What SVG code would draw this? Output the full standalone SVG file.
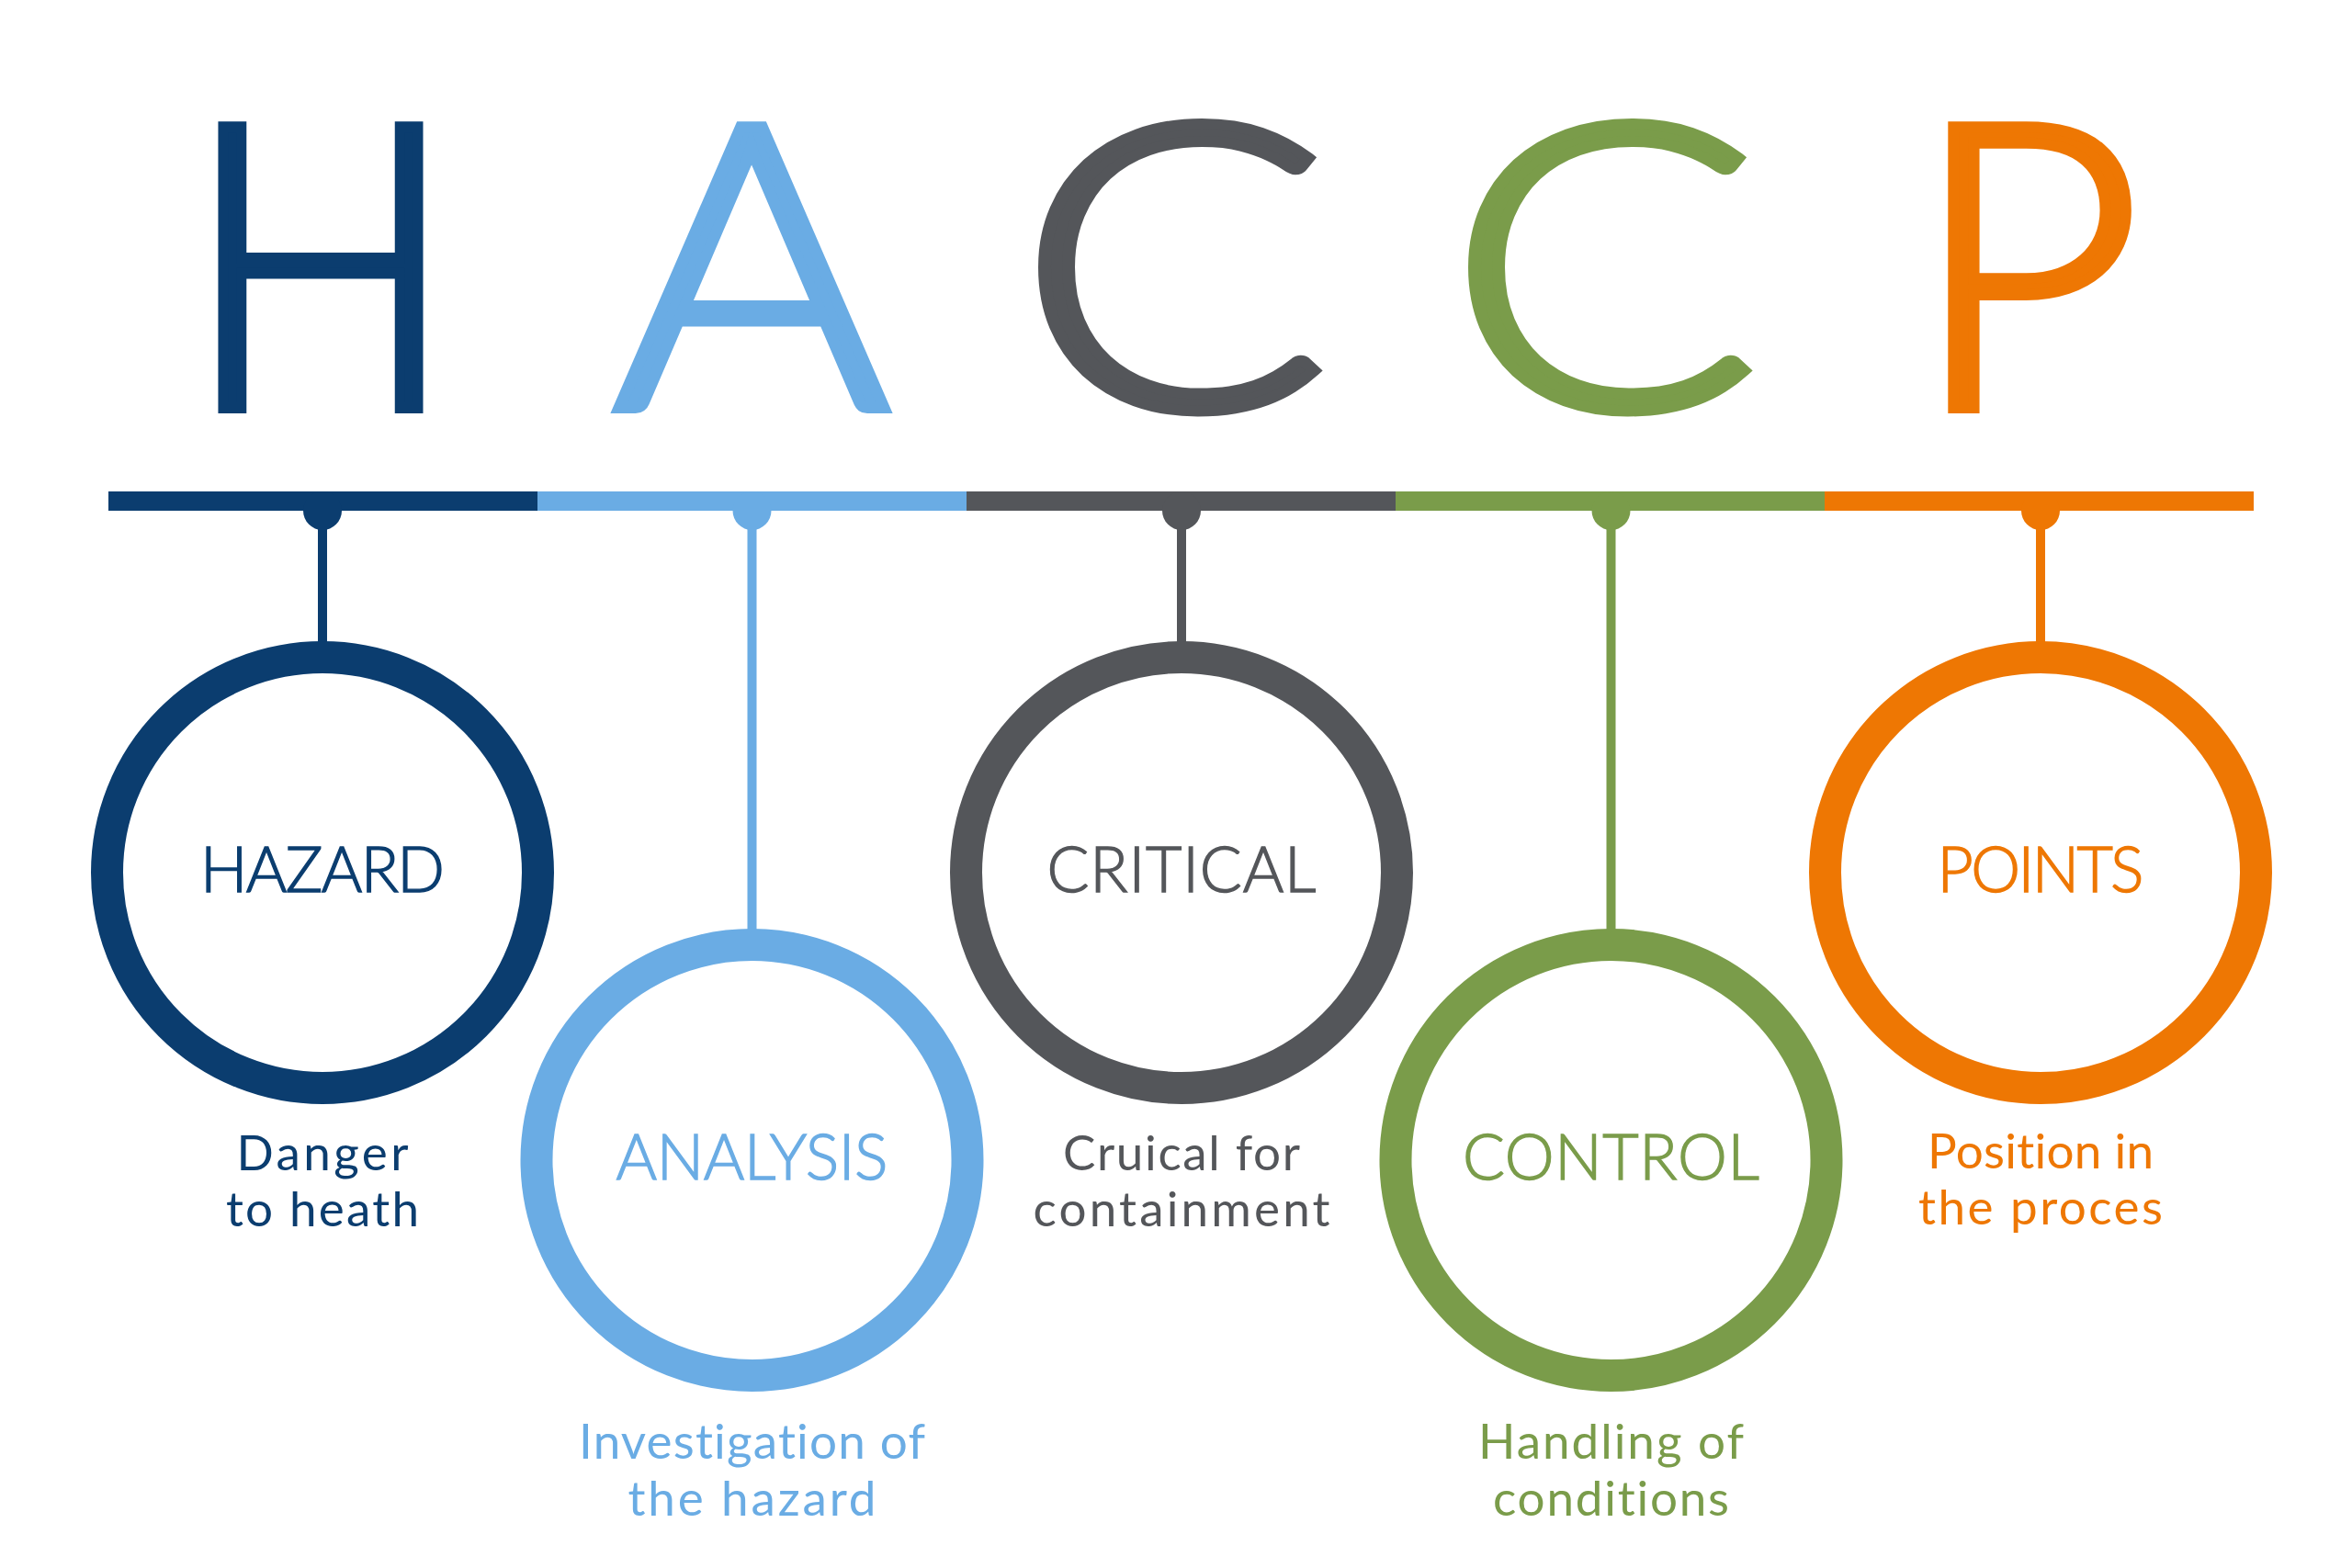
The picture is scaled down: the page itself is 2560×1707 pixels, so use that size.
<svg xmlns="http://www.w3.org/2000/svg" width="2560" height="1707" viewBox="0 0 2560 1707">
<style>
text{font-variant-ligatures:none;font-feature-settings:"liga" 0,"clig" 0}
.big{font-family:Lato,"Liberation Sans",sans-serif;font-size:432px;font-weight:300;text-anchor:middle;stroke-width:12;stroke-linejoin:miter}
.lbl{font-family:Lato,"Liberation Sans",sans-serif;font-size:68px;font-weight:300;text-anchor:middle;stroke-width:1.4}
.sub{font-family:Lato,"Liberation Sans",sans-serif;font-size:53px;font-weight:400;text-anchor:middle}
.ring{fill:#fff;stroke-width:35}
.c1{fill:#0b3d6f}.c2{fill:#6aace4}.c3{fill:#54565a}.c4{fill:#7a9c4a}.c5{fill:#ee7703}
.s1{stroke:#0b3d6f}.s2{stroke:#6aace4}.s3{stroke:#54565a}.s4{stroke:#7a9c4a}.s5{stroke:#ee7703}
</style>
<rect width="2560" height="1707" fill="#fff"/>
<g id="title">
<text class="big c1 s1" transform="translate(349,444) scale(0.9,1)">H</text>
<text class="big c2 s2" transform="translate(818,444) scale(1.06,1)">A</text>
<text class="big c3 s3" transform="translate(1277,444) scale(1.16,1)">C</text>
<text class="big c4 s4" transform="translate(1745,444) scale(1.16,1)">C</text>
<text class="big c5 s5" transform="translate(2206,444)">P</text>
</g>
<g id="connectors">
<rect x="118" y="535" width="468" height="21" class="c1"/>
<rect x="585" y="535" width="468" height="21" class="c2"/>
<rect x="1052" y="535" width="468" height="21" class="c3"/>
<rect x="1519" y="535" width="468" height="21" class="c4"/>
<rect x="1986" y="535" width="467" height="21" class="c5"/>
<circle cx="351" cy="556" r="21" class="c1"/>
<circle cx="818.5" cy="556" r="21" class="c2"/>
<circle cx="1286" cy="556" r="21" class="c3"/>
<circle cx="1753.5" cy="556" r="21" class="c4"/>
<circle cx="2221" cy="556" r="21" class="c5"/>
<rect x="346" y="556" width="10" height="145" class="c1"/>
<rect x="813.5" y="556" width="10" height="458" class="c2"/>
<rect x="1281" y="556" width="10" height="145" class="c3"/>
<rect x="1748.5" y="556" width="10" height="458" class="c4"/>
<rect x="2216" y="556" width="10" height="145" class="c5"/>
</g>
<g id="hazard">
<circle cx="351" cy="950" r="234.5" class="ring s1"/>
<text class="lbl c1 s1" x="351" y="971" textLength="266">HAZARD</text>
<text class="sub c1" x="351" y="1274" textLength="187">Danger</text>
<text class="sub c1" x="351" y="1335" textLength="210">to heath</text>
</g>
<g id="analysis">
<circle cx="818.5" cy="1263" r="234.5" class="ring s2"/>
<text class="lbl c2 s2" x="818.5" y="1284" textLength="296">ANALYSIS</text>
<text class="sub c2" x="818.5" y="1588" textLength="377">Investigation of</text>
<text class="sub c2" x="818.5" y="1650" textLength="270">the hazard</text>
</g>
<g id="critical">
<circle cx="1286" cy="950" r="234.5" class="ring s3"/>
<text class="lbl c3 s3" x="1286" y="971" textLength="293">CRITICAL</text>
<text class="sub c3" x="1286" y="1274" textLength="258">Cruical for</text>
<text class="sub c3" x="1286" y="1335" textLength="323">containment</text>
</g>
<g id="control">
<circle cx="1753.5" cy="1263" r="234.5" class="ring s4"/>
<text class="lbl c4 s4" x="1753.5" y="1284" textLength="323">CONTROL</text>
<text class="sub c4" x="1753.5" y="1588" textLength="289">Handling of</text>
<text class="sub c4" x="1753.5" y="1650" textLength="257">conditions</text>
</g>
<g id="points">
<circle cx="2221" cy="950" r="234.5" class="ring s5"/>
<text class="lbl c5 s5" x="2221" y="971" textLength="225">POINTS</text>
<text class="sub c5" x="2221" y="1272" textLength="246">Position in</text>
<text class="sub c5" x="2221" y="1333" textLength="266">the proces</text>
</g>
</svg>
